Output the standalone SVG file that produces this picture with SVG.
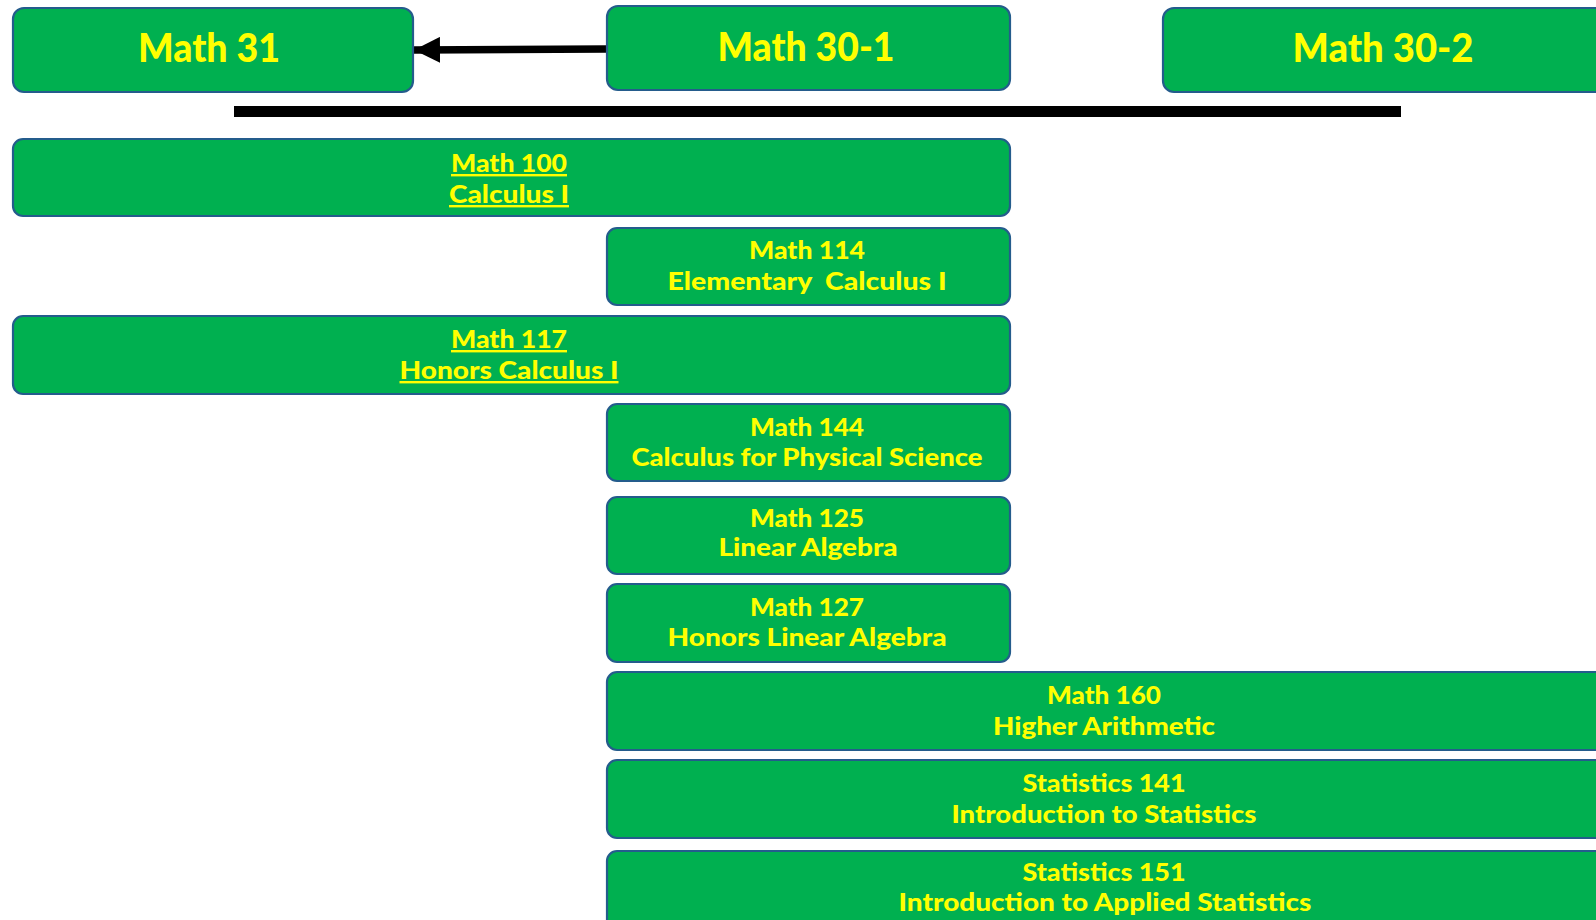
<svg xmlns="http://www.w3.org/2000/svg" width="1596" height="920" viewBox="0 0 1596 920">
<style>
.box{fill:#00B050;stroke:#245C8C;stroke-width:2.2}
.t{font-family:Lato,"Liberation Sans",sans-serif;font-weight:900;fill:#FFFF00;text-anchor:middle}
.big{font-size:40px}
.sm{font-size:24px}
.u{text-decoration:underline}
</style>
<defs>
<marker id="ah" viewBox="0 0 26 26" refX="26" refY="13" markerWidth="26" markerHeight="26" markerUnits="userSpaceOnUse" orient="auto">
<path d="M0,0 L26,13 L0,26 Z" fill="#000"/>
</marker>
</defs>
<rect width="1596" height="920" fill="#fff"/>
<g id="connectors">
<line x1="607" y1="49" x2="414" y2="50" stroke="#000" stroke-width="7.5" marker-end="url(#ah)"/>
</g>
<rect id="divider" x="234" y="106" width="1167" height="11" fill="#000"/>
<g id="math31"><rect class="box" x="13" y="8" width="400" height="84" rx="11"/><text class="t big" x="209" y="62" textLength="142" lengthAdjust="spacingAndGlyphs">Math 31</text></g>
<g id="math30-1"><rect class="box" x="607" y="6" width="403" height="84" rx="11"/><text class="t big" x="806" y="61" textLength="177" lengthAdjust="spacingAndGlyphs">Math 30-1</text></g>
<g id="math30-2"><rect class="box" x="1163" y="8" width="450" height="84" rx="11"/><text class="t big" x="1383" y="62" textLength="181" lengthAdjust="spacingAndGlyphs">Math 30-2</text></g>
<g id="math100"><rect class="box" x="13" y="139" width="997" height="77" rx="10"/><text class="t sm u" x="509" y="172" textLength="116" lengthAdjust="spacingAndGlyphs">Math 100</text><text class="t sm u" x="509" y="203" textLength="120" lengthAdjust="spacingAndGlyphs">Calculus I</text></g>
<g id="math114"><rect class="box" x="607" y="228" width="403" height="77" rx="10"/><text class="t sm" x="807" y="259" textLength="116" lengthAdjust="spacingAndGlyphs">Math 114</text><text class="t sm" x="807" y="290" textLength="279" lengthAdjust="spacingAndGlyphs" xml:space="preserve">Elementary  Calculus I</text></g>
<g id="math117"><rect class="box" x="13" y="316" width="997" height="78" rx="10"/><text class="t sm u" x="509" y="348" textLength="116" lengthAdjust="spacingAndGlyphs">Math 117</text><text class="t sm u" x="509" y="379" textLength="219" lengthAdjust="spacingAndGlyphs">Honors Calculus I</text></g>
<g id="math144"><rect class="box" x="607" y="404" width="403" height="77" rx="10"/><text class="t sm" x="807" y="436" textLength="114" lengthAdjust="spacingAndGlyphs">Math 144</text><text class="t sm" x="807" y="466" textLength="351" lengthAdjust="spacingAndGlyphs">Calculus for Physical Science</text></g>
<g id="math125"><rect class="box" x="607" y="497" width="403" height="77" rx="10"/><text class="t sm" x="807" y="527" textLength="114" lengthAdjust="spacingAndGlyphs">Math 125</text><text class="t sm" x="808" y="556" textLength="179" lengthAdjust="spacingAndGlyphs">Linear Algebra</text></g>
<g id="math127"><rect class="box" x="607" y="584" width="403" height="78" rx="10"/><text class="t sm" x="807" y="616" textLength="114" lengthAdjust="spacingAndGlyphs">Math 127</text><text class="t sm" x="807" y="646" textLength="279" lengthAdjust="spacingAndGlyphs">Honors Linear Algebra</text></g>
<g id="math160"><rect class="box" x="607" y="672" width="1010" height="78" rx="10"/><text class="t sm" x="1104" y="704" textLength="114" lengthAdjust="spacingAndGlyphs">Math 160</text><text class="t sm" x="1104" y="735" textLength="222" lengthAdjust="spacingAndGlyphs">Higher Arithmetic</text></g>
<g id="stat141"><rect class="box" x="607" y="760" width="1010" height="78" rx="10"/><text class="t sm" x="1104" y="792" textLength="163" lengthAdjust="spacingAndGlyphs">Statistics 141</text><text class="t sm" x="1104" y="823" textLength="305" lengthAdjust="spacingAndGlyphs">Introduction to Statistics</text></g>
<g id="stat151"><rect class="box" x="607" y="851" width="1010" height="100" rx="10"/><text class="t sm" x="1104" y="881" textLength="163" lengthAdjust="spacingAndGlyphs">Statistics 151</text><text class="t sm" x="1105" y="911" textLength="413" lengthAdjust="spacingAndGlyphs">Introduction to Applied Statistics</text></g>
</svg>
